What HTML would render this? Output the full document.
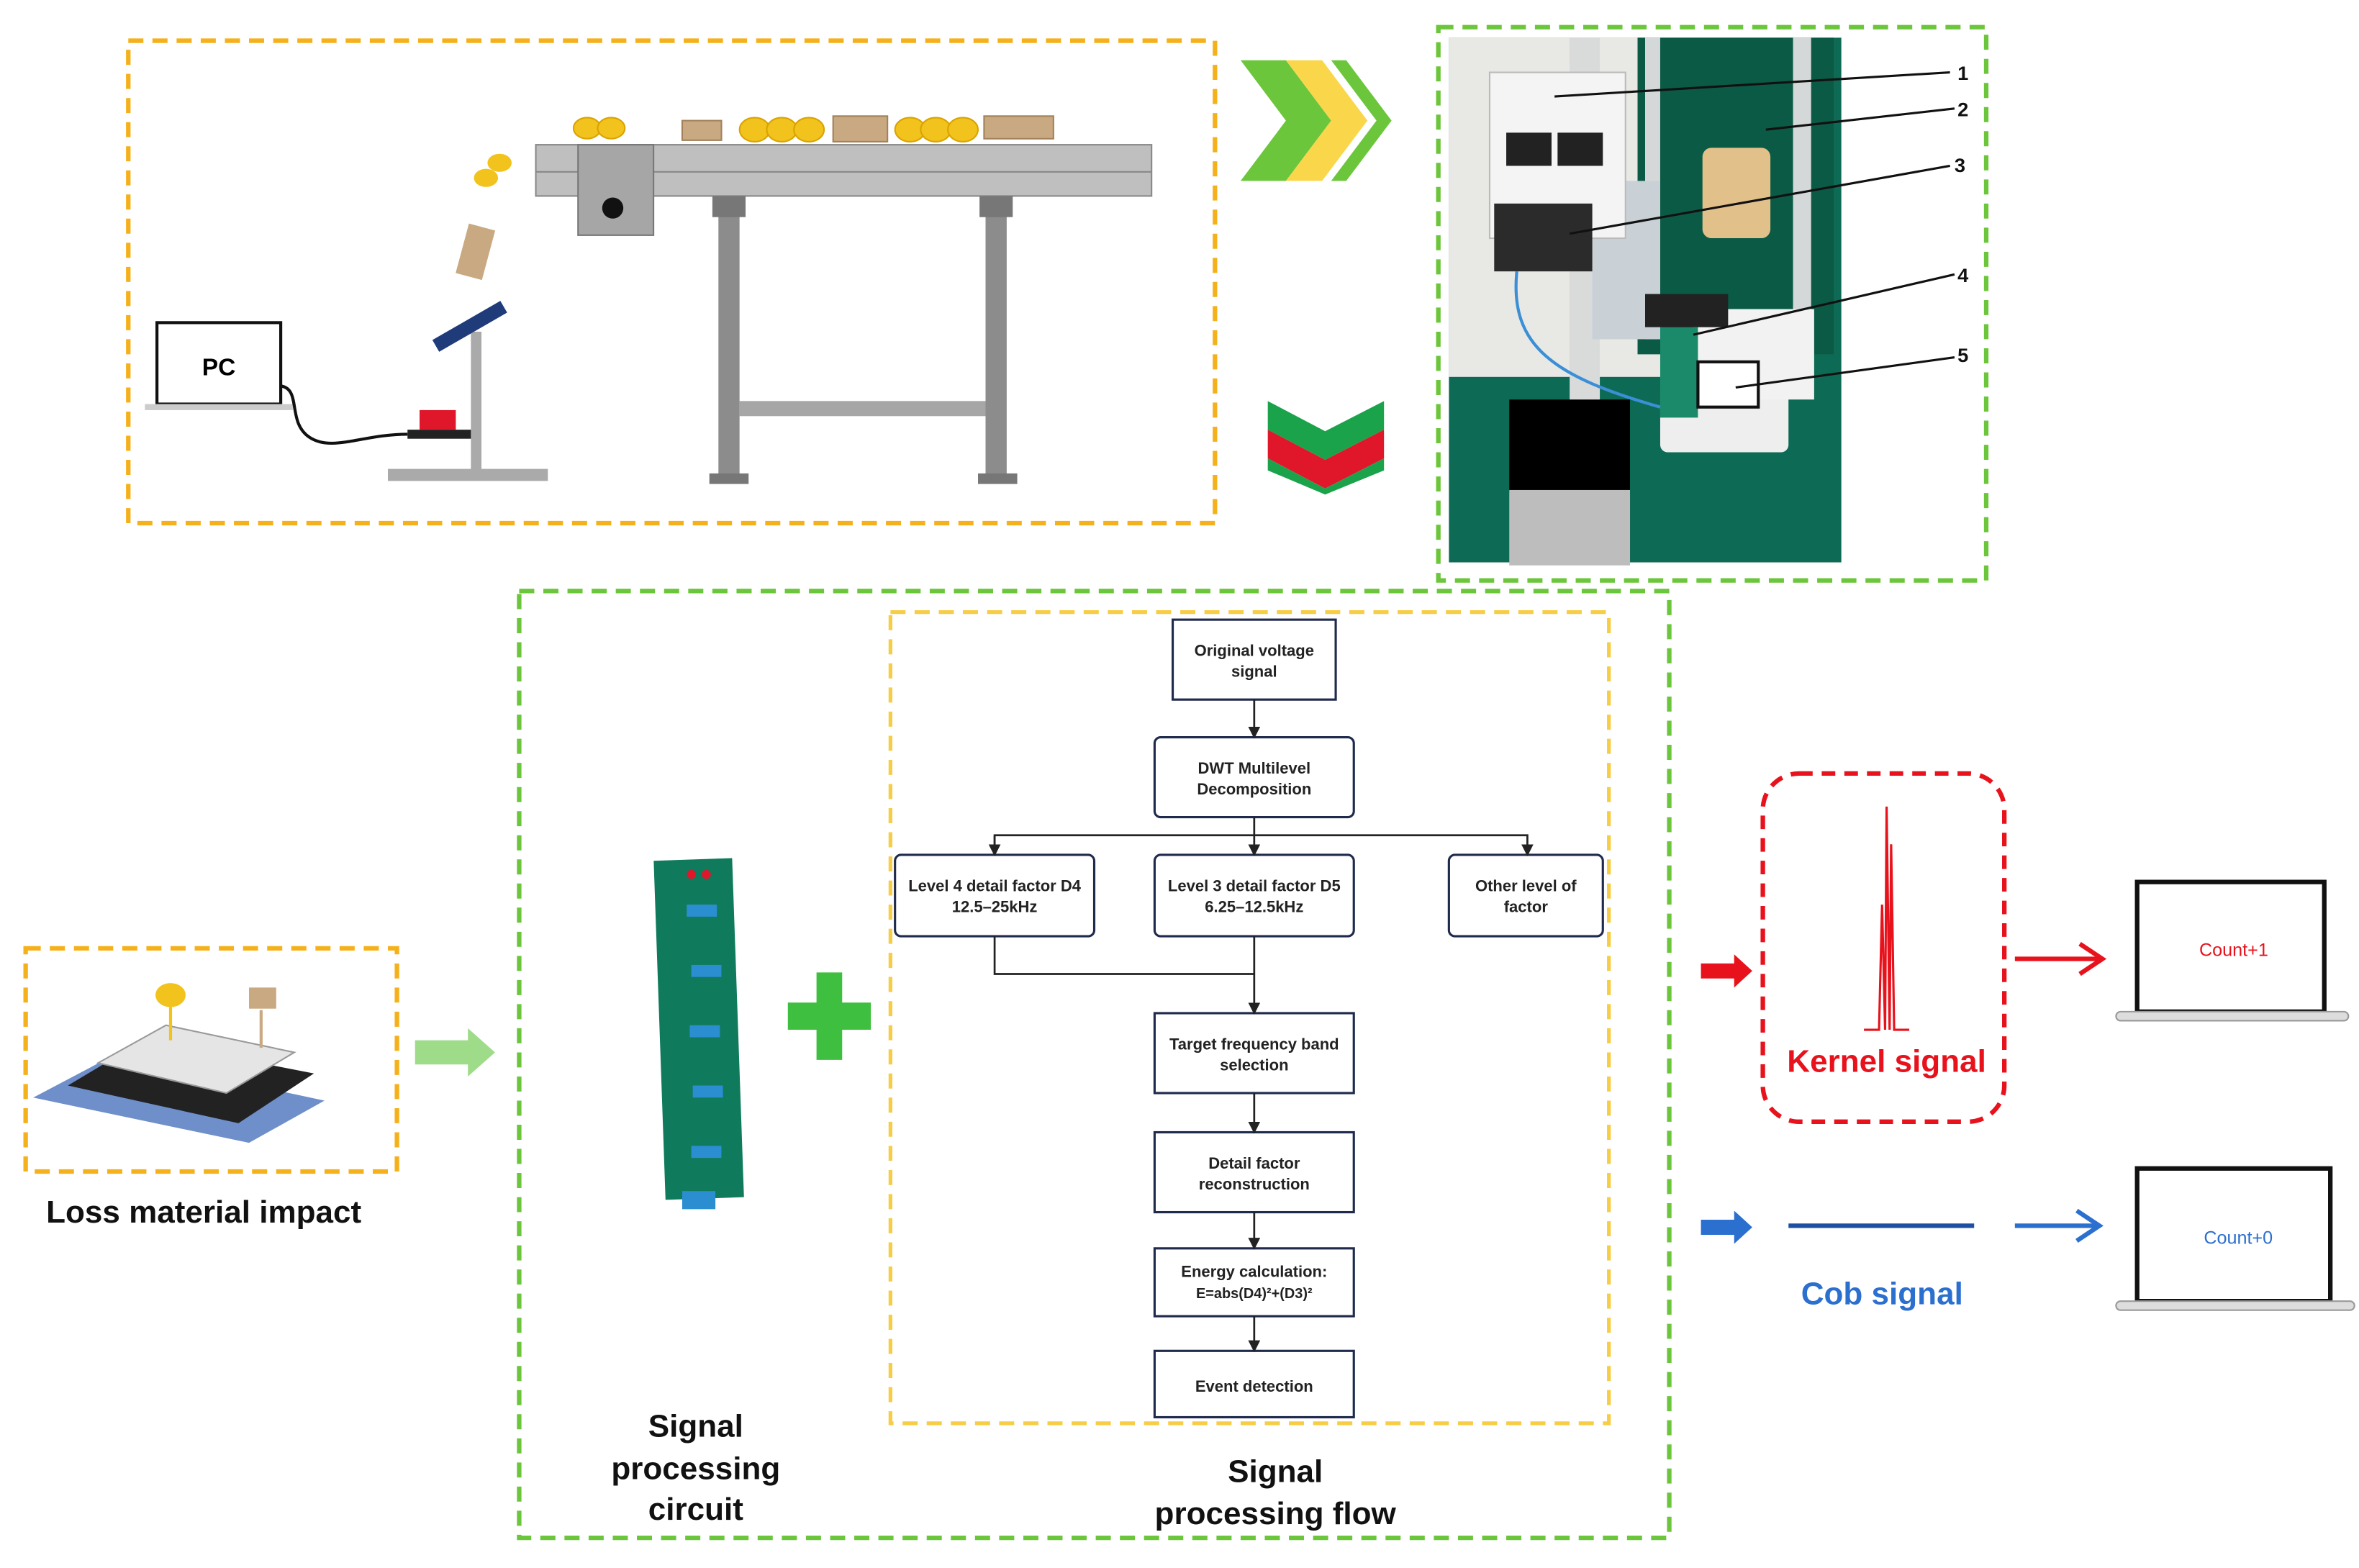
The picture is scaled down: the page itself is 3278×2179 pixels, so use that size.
<!DOCTYPE html>
<html><head><meta charset="utf-8"><style>
html,body{margin:0;padding:0;background:#fff;}
svg{display:block;}
text{font-family:"Liberation Sans",Arial,sans-serif;}
</style></head><body>
<svg width="3278" height="2179" viewBox="0 0 1563 1040" preserveAspectRatio="none" xmlns="http://www.w3.org/2000/svg">
<defs>
<marker id="ah" markerWidth="8" markerHeight="8" refX="7" refY="4" orient="auto" markerUnits="userSpaceOnUse"><path d="M0,0 L8,4 L0,8 z" fill="#222"/></marker>
</defs>
<!-- Top-left orange box -->
<rect x="85" y="27" width="720" height="320" fill="none" stroke="#f5b11c" stroke-width="3" stroke-dasharray="10,6"/>
<!-- conveyor -->
<rect x="355" y="96" width="408" height="34" fill="#bfbfbf" stroke="#888"/>
<line x1="355" y1="114" x2="763" y2="114" stroke="#888"/>
<rect x="383" y="96" width="50" height="60" fill="#a6a6a6" stroke="#777"/>
<circle cx="406" cy="138" r="7" fill="#111"/>
<rect x="476" y="130" width="14" height="190" fill="#8c8c8c"/>
<rect x="653" y="130" width="14" height="190" fill="#8c8c8c"/>
<rect x="472" y="130" width="22" height="14" fill="#777"/>
<rect x="649" y="130" width="22" height="14" fill="#777"/>
<rect x="490" y="266" width="163" height="10" fill="#a6a6a6"/>
<rect x="470" y="314" width="26" height="7" fill="#777"/>
<rect x="648" y="314" width="26" height="7" fill="#777"/>
<!-- materials on belt -->
<g fill="#f2c31c" stroke="#d9a300"><ellipse cx="389" cy="85" rx="9" ry="7"/><ellipse cx="405" cy="85" rx="9" ry="7"/><ellipse cx="500" cy="86" rx="10" ry="8"/><ellipse cx="518" cy="86" rx="10" ry="8"/><ellipse cx="536" cy="86" rx="10" ry="8"/><ellipse cx="603" cy="86" rx="10" ry="8"/><ellipse cx="620" cy="86" rx="10" ry="8"/><ellipse cx="638" cy="86" rx="10" ry="8"/></g>
<g fill="#c9a981" stroke="#a3825b"><rect x="452" y="80" width="26" height="13"/><rect x="552" y="77" width="36" height="17"/><rect x="652" y="77" width="46" height="15"/></g>
<g fill="#f2c31c"><ellipse cx="322" cy="118" rx="8" ry="6"/><ellipse cx="331" cy="108" rx="8" ry="6"/></g>
<rect x="306" y="150" width="18" height="34" fill="#c9a981" transform="rotate(15 315 167)"/>
<!-- sensor stand -->
<rect x="257" y="311" width="106" height="8" fill="#aaa"/>
<rect x="312" y="220" width="7" height="92" fill="#aaa"/>
<rect x="285" y="212" width="52" height="9" fill="#1f3b7a" transform="rotate(-30 311 216)"/>
<rect x="278" y="272" width="24" height="13" fill="#e0162b"/>
<rect x="270" y="285" width="42" height="6" fill="#222"/>
<!-- PC -->
<rect x="104" y="214" width="82" height="54" fill="#fff" stroke="#111" stroke-width="2"/>
<rect x="96" y="268" width="98" height="4" fill="#ccc"/>
<text x="145" y="249" font-size="16" font-weight="bold" text-anchor="middle">PC</text>
<path d="M186,256 C200,258 190,280 205,290 C220,300 240,288 270,288" fill="none" stroke="#111" stroke-width="2"/>
<!-- chevrons -->
<path d="M822,40 L852,40 L882,80 L852,120 L822,120 L852,80 z" fill="#6cc63b"/>
<path d="M852,40 L876,40 L906,80 L876,120 L852,120 L882,80 z" fill="#fad74a"/>
<path d="M882,40 L892,40 L922,80 L892,120 L882,120 L912,80 z" fill="#6cc63b"/>
<path d="M840,266 L878,286 L917,266 L917,285 L878,305 L840,285 z" fill="#1aa34a"/>
<path d="M840,285 L878,305 L917,285 L917,304 L878,324 L840,304 z" fill="#e0162b"/>
<path d="M840,304 L878,324 L917,304 L917,312 L878,328 L840,312 z" fill="#1aa34a"/>
<!-- Photo box -->
<rect x="953" y="18" width="363" height="367" fill="none" stroke="#6cc63b" stroke-width="3" stroke-dasharray="10,6"/>
<rect x="960" y="25" width="260" height="348" fill="#0d6b55"/>
<rect x="960" y="25" width="145" height="225" fill="#e8e8e4"/>
<rect x="1040" y="25" width="20" height="320" fill="#d9dbdb"/>
<rect x="1085" y="25" width="130" height="210" fill="#0b5a45"/>
<rect x="1090" y="25" width="10" height="200" fill="#d5d8d8"/>
<rect x="1188" y="25" width="12" height="210" fill="#d5d8d8"/>
<rect x="1055" y="120" width="45" height="105" fill="#c9d1d6"/>
<rect x="987" y="48" width="90" height="110" fill="#f4f4f4" stroke="#bbb"/>
<rect x="998" y="88" width="30" height="22" fill="#222"/><rect x="1032" y="88" width="30" height="22" fill="#222"/>
<rect x="990" y="135" width="65" height="45" fill="#2b2b2b"/>
<rect x="1128" y="98" width="45" height="60" rx="6" fill="#e2c08a"/>
<rect x="1100" y="255" width="85" height="45" rx="5" fill="#eee"/>
<rect x="1122" y="205" width="80" height="60" fill="#f2f2f2"/>
<rect x="1100" y="217" width="25" height="60" fill="#1b8a6a"/>
<rect x="1125" y="240" width="40" height="30" fill="#fff" stroke="#111" stroke-width="2"/>
<rect x="1090" y="195" width="55" height="22" fill="#222"/>
<rect x="1000" y="265" width="80" height="62" fill="#000"/>
<rect x="1000" y="325" width="80" height="50" fill="#bdbdbd"/>
<path d="M1005,180 C1000,230 1030,250 1100,270" fill="none" stroke="#3a8fd6" stroke-width="2"/>
<g stroke="#111" stroke-width="1.5"><line x1="1030" y1="64" x2="1292" y2="48"/><line x1="1170" y1="86" x2="1295" y2="72"/><line x1="1040" y1="155" x2="1292" y2="110"/><line x1="1122" y1="222" x2="1295" y2="182"/><line x1="1150" y1="257" x2="1295" y2="237"/></g>
<g font-size="13" font-weight="bold" fill="#111"><text x="1297" y="53">1</text><text x="1297" y="77">2</text><text x="1295" y="114">3</text><text x="1297" y="187">4</text><text x="1297" y="240">5</text></g>
<!-- Big green box -->
<rect x="344" y="392" width="762" height="628" fill="none" stroke="#6cc63b" stroke-width="3" stroke-dasharray="10,6"/>
<rect x="590" y="406" width="476" height="538" fill="none" stroke="#f7cd45" stroke-width="2.5" stroke-dasharray="10,6"/>
<!-- flowchart -->
<g fill="#fff" stroke="#1f2a4d" stroke-width="1.5">
<rect x="777" y="411" width="108" height="53"/><rect x="765" y="489" width="132" height="53" rx="4"/>
<rect x="593" y="567" width="132" height="54" rx="4"/><rect x="765" y="567" width="132" height="54" rx="4"/><rect x="960" y="567" width="102" height="54" rx="4"/>
<rect x="765" y="672" width="132" height="53"/><rect x="765" y="751" width="132" height="53"/><rect x="765" y="828" width="132" height="45"/><rect x="765" y="896" width="132" height="44"/>
</g>
<g stroke="#222" stroke-width="1.3" fill="none">
<line x1="831" y1="464" x2="831" y2="489" marker-end="url(#ah)"/>
<line x1="831" y1="542" x2="831" y2="567" marker-end="url(#ah)"/>
<path d="M659,567 L659,554 L1012,554 L1012,567" marker-end="url(#ah)"/>
<line x1="659" y1="554" x2="659" y2="567" marker-end="url(#ah)"/>
<path d="M659,621 L659,646 L831,646"/>
<line x1="831" y1="621" x2="831" y2="672" marker-end="url(#ah)"/>
<line x1="831" y1="725" x2="831" y2="751" marker-end="url(#ah)"/>
<line x1="831" y1="804" x2="831" y2="828" marker-end="url(#ah)"/>
<line x1="831" y1="873" x2="831" y2="896" marker-end="url(#ah)"/>
</g>
<g font-size="10.5" font-weight="bold" fill="#222" text-anchor="middle">
<text x="831" y="435">Original voltage</text><text x="831" y="449">signal</text>
<text x="831" y="513">DWT Multilevel</text><text x="831" y="527">Decomposition</text>
<text x="659" y="591">Level 4 detail factor D4</text><text x="659" y="605">12.5–25kHz</text>
<text x="831" y="591">Level 3 detail factor D5</text><text x="831" y="605">6.25–12.5kHz</text>
<text x="1011" y="591">Other level of</text><text x="1011" y="605">factor</text>
<text x="831" y="696">Target frequency band</text><text x="831" y="710">selection</text>
<text x="831" y="775">Detail factor</text><text x="831" y="789">reconstruction</text>
<text x="831" y="847">Energy calculation:</text><text x="831" y="861" font-size="9.5">E=abs(D4)²+(D3)²</text>
<text x="831" y="923">Event detection</text>
</g>
<!-- circuit board -->
<rect x="437" y="570" width="52" height="225" fill="#0f7a5c" transform="rotate(-2 463 682)"/>
<g fill="#2a8ed0"><rect x="455" y="600" width="20" height="8"/><rect x="458" y="640" width="20" height="8"/><rect x="457" y="680" width="20" height="8"/><rect x="459" y="720" width="20" height="8"/><rect x="458" y="760" width="20" height="8"/><rect x="452" y="790" width="22" height="12"/></g>
<circle cx="458" cy="580" r="3" fill="#e0162b"/><circle cx="468" cy="580" r="3" fill="#e0162b"/>
<!-- plus -->
<path d="M541,645 h17 v20 h19 v18 h-19 v20 h-17 v-20 h-19 v-18 h19 z" fill="#3fbf3f"/>
<!-- labels -->
<g font-size="21" font-weight="bold" fill="#111" text-anchor="middle">
<text x="461" y="953">Signal</text><text x="461" y="981">processing</text><text x="461" y="1008">circuit</text>
<text x="845" y="983">Signal</text><text x="845" y="1011">processing flow</text>
<text x="135" y="811">Loss material impact</text>
</g>
<!-- loss material -->
<rect x="17" y="629" width="246" height="148" fill="none" stroke="#f5b11c" stroke-width="3" stroke-dasharray="10,6"/>
<path d="M22,728 L75,700 L215,730 L165,758 z" fill="#6e8fc9"/>
<path d="M45,720 L95,690 L208,712 L158,745 z" fill="#222"/>
<path d="M65,705 L110,680 L195,698 L150,725 z" fill="#e5e5e5" stroke="#999"/>
<ellipse cx="113" cy="660" rx="10" ry="8" fill="#f2c31c"/><line x1="113" y1="668" x2="113" y2="690" stroke="#f2c31c" stroke-width="2"/>
<rect x="165" y="655" width="18" height="14" fill="#c9a981"/><line x1="173" y1="670" x2="173" y2="695" stroke="#c9a981" stroke-width="2"/>
<path d="M275,690 L310,690 L310,682 L328,698 L310,714 L310,706 L275,706 z" fill="#9fdc8a"/>
<!-- kernel -->
<rect x="1168" y="513" width="160" height="231" rx="24" fill="none" stroke="#e8121c" stroke-width="3" stroke-dasharray="9,6"/>
<path d="M1235,683 L1245,683 L1247,600 L1249,683 L1250,535 L1252,683 L1253,560 L1255,683 L1265,683" fill="none" stroke="#e8121c" stroke-width="1.5"/>
<text x="1250" y="711" font-size="21" font-weight="bold" fill="#e8121c" text-anchor="middle">Kernel signal</text>
<path d="M1127,639 h22 v-6 l12,11 -12,11 v-6 h-22 z" fill="#e8121c"/>
<g stroke="#e8121c" stroke-width="3" fill="none"><line x1="1335" y1="636" x2="1392" y2="636"/><path d="M1378,626 L1393,636 L1378,646"/></g>
<!-- laptops -->
<rect x="1416" y="585" width="124" height="86" fill="#fff" stroke="#111" stroke-width="3"/>
<rect x="1402" y="671" width="154" height="6" rx="3" fill="#ddd" stroke="#999"/>
<text x="1480" y="634" font-size="12" fill="#e8121c" text-anchor="middle">Count+1</text>
<rect x="1416" y="775" width="128" height="88" fill="#fff" stroke="#111" stroke-width="3"/>
<rect x="1402" y="863" width="158" height="6" rx="3" fill="#ddd" stroke="#999"/>
<text x="1483" y="825" font-size="12" fill="#2b6fcf" text-anchor="middle">Count+0</text>
<!-- cob -->
<path d="M1127,809 h22 v-6 l12,11 -12,11 v-6 h-22 z" fill="#2b6fcf"/>
<line x1="1185" y1="813" x2="1308" y2="813" stroke="#1f4fa0" stroke-width="3"/>
<g stroke="#2b6fcf" stroke-width="3" fill="none"><line x1="1335" y1="813" x2="1390" y2="813"/><path d="M1376,803 L1391,813 L1376,823"/></g>
<text x="1247" y="865" font-size="21" font-weight="bold" fill="#2b6fcf" text-anchor="middle">Cob signal</text>
</svg>
</body></html>
